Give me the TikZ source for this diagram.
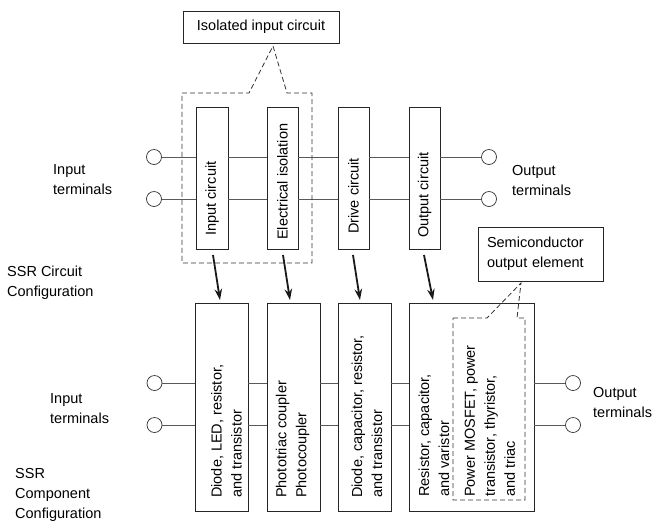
\documentclass[tikz,border=0pt]{standalone}
\usepackage{fontspec}
\setmainfont{Liberation Sans}
\usetikzlibrary{arrows.meta}
\begin{document}
\begin{tikzpicture}[x=1pt,y=-1pt,
  box/.style={draw=black!85,line width=0.9pt,inner sep=0},
  term/.style={circle,draw=black!80,line width=0.7pt,fill=white,minimum size=15pt,inner sep=0},
  wire/.style={draw=black!65,line width=0.9pt},
  dsh/.style={draw=black!80,line width=0.8pt,dash pattern=on 5pt off 3pt},
  arr/.style={draw=black!90,line width=1.8pt,-{Stealth[length=11pt,width=7.5pt]}},
  lbl/.style={font=\fontsize{14.5}{20}\selectfont,align=left,inner sep=0},
  vt/.style={lbl,rotate=90,anchor=west}]
\useasboundingbox (0,0) rectangle (653,523);

% top callout box
\node[box,lbl,align=center,minimum width=156pt,minimum height=32pt] (iso) at (261,27) {Isolated input circuit};

% top boxes
\node[box,minimum width=32pt,minimum height=142pt] (t1) at (212,178) {};
\node[box,minimum width=31pt,minimum height=142pt] (t2) at (282.5,178) {};
\node[box,minimum width=31pt,minimum height=142pt] (t3) at (353.5,178) {};
\node[box,minimum width=31pt,minimum height=142pt] (t4) at (424.5,178) {};

% top terminals
\node[term] (til1) at (154,157) {};
\node[term] (til2) at (154,199) {};
\node[term] (tir1) at (489,157) {};
\node[term] (tir2) at (489,199) {};

\foreach \w in {til1,til2}{
  \draw[wire] (\w.east) -- (t1.west |- \w);
  \draw[wire] (t1.east |- \w) -- (t2.west |- \w);
  \draw[wire] (t2.east |- \w) -- (t3.west |- \w);
  \draw[wire] (t3.east |- \w) -- (t4.west |- \w);
}
\draw[wire] (t4.east |- tir1) -- (tir1.west);
\draw[wire] (t4.east |- tir2) -- (tir2.west);

\node[vt] (t1l) at (212,236) {Input circuit};
\node[vt] (t2l) at (282.5,240) {Electrical isolation};
\node[vt] (t3l) at (353.5,234) {Drive circuit};
\node[vt] (t4l) at (424.5,238) {Output circuit};

% dashed isolation outline
\coordinate (apex) at (273,46);
\draw[dsh] (182,93) -- (249,93) -- (apex) -- (287,93) -- (312,93) -- (312,263) -- (182,263) -- cycle;

% labels top
\node[lbl,anchor=west] (inl1) at (53,180) {Input\\terminals};
\node[lbl,anchor=west] (outl1) at (512,181) {Output\\terminals};
\node[lbl,anchor=west] (ssr1) at (7,283) {SSR Circuit\\Configuration};

% bottom boxes
\node[box,minimum width=53pt,minimum height=208pt] (b1) at (221.5,407) {};
\node[box,minimum width=53pt,minimum height=208pt] (b2) at (293.5,407) {};
\node[box,minimum width=53pt,minimum height=208pt] (b3) at (364.5,407) {};
\node[box,minimum width=125pt,minimum height=208pt] (b4) at (471.5,407) {};

% arrows
\coordinate (a1s) at (213,255); \coordinate (a1e) at (220,300);
\coordinate (a2s) at (283,255); \coordinate (a2e) at (290,300);
\coordinate (a3s) at (353,255); \coordinate (a3e) at (360,300);
\coordinate (a4s) at (424,255); \coordinate (a4e) at (433,300);
\draw[arr] (a1s) -- (a1e);
\draw[arr] (a2s) -- (a2e);
\draw[arr] (a3s) -- (a3e);
\draw[arr] (a4s) -- (a4e);

% bottom terminals
\node[term] (bil1) at (154.5,383) {};
\node[term] (bil2) at (154.5,425) {};
\node[term] (bir1) at (573,383) {};
\node[term] (bir2) at (573,425) {};
\foreach \w in {bil1,bil2}{
  \draw[wire] (\w.east) -- (b1.west |- \w);
  \draw[wire] (b1.east |- \w) -- (b2.west |- \w);
  \draw[wire] (b2.east |- \w) -- (b3.west |- \w);
  \draw[wire] (b3.east |- \w) -- (b4.west |- \w);
}
\draw[wire] (b4.east |- bir1) -- (bir1.west);
\draw[wire] (b4.east |- bir2) -- (bir2.west);

% bottom box texts
\node[vt] (b1l) at (226.5,498) {Diode, LED, resistor,\\and transistor};
\node[vt] (b2l) at (292.5,498) {Phototriac coupler\\Photocoupler};
\node[vt] (b3l) at (367,498) {Diode, capacitor, resistor,\\and transistor};
\node[vt] (b4l) at (434,497) {Resistor, capacitor,\\and varistor};
\node[vt] (b5l) at (490,497) {Power MOSFET, power\\transistor, thyristor,\\and triac};

% semiconductor callout
\node[box,lbl,minimum width=125pt,minimum height=54pt,text width=107pt,inner xsep=9pt] (semi) at (540.5,254) {Semiconductor\\output element};
\coordinate (apex2) at (521,283);
\draw[dsh] (453,318) -- (487,318) -- (apex2) -- (517,318) -- (525,318) -- (525,500) -- (453,500) -- cycle;

% labels bottom
\node[lbl,anchor=west] (inl2) at (50,409) {Input\\terminals};
\node[lbl,anchor=west] (outl2) at (593,402) {Output\\terminals};
\node[lbl,anchor=west] (ssr2) at (15,495) {SSR\\Component\\Configuration};
\end{tikzpicture}
\end{document}
